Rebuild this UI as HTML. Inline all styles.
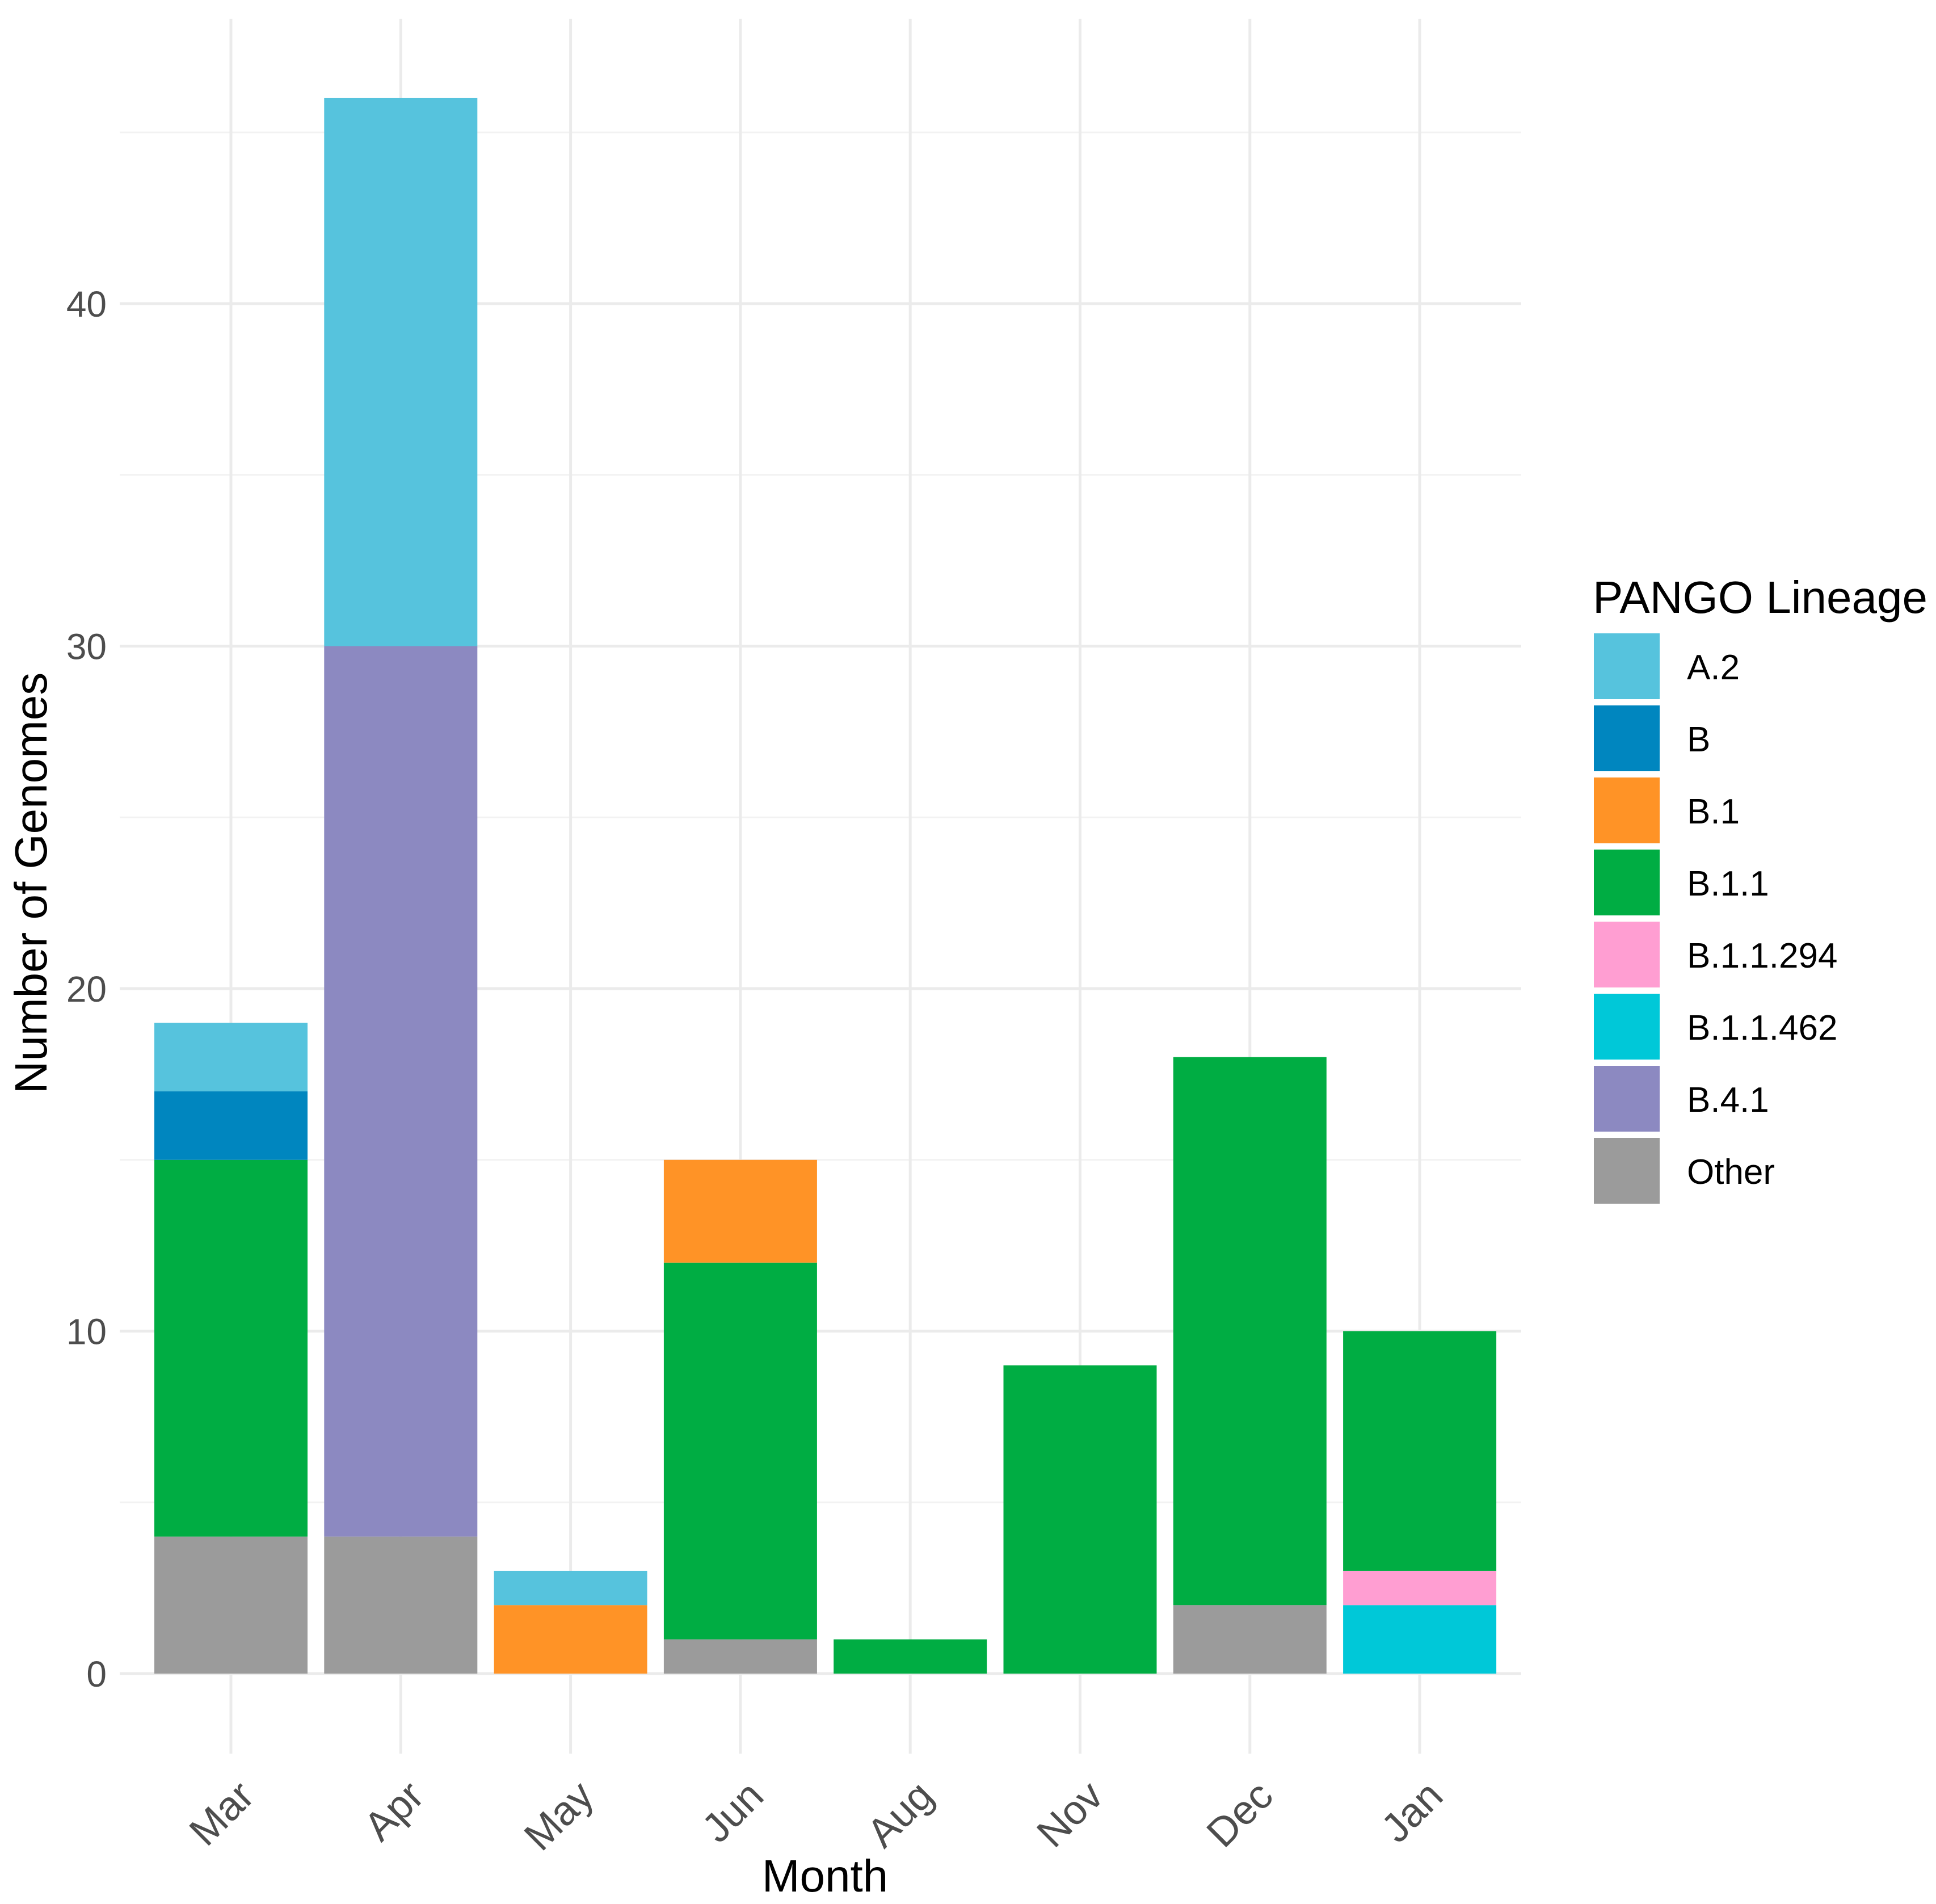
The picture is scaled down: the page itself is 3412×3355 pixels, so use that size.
<!DOCTYPE html>
<html><head><meta charset="utf-8"><style>html,body{margin:0;padding:0;background:#fff}svg{display:block}</style></head>
<body>
<svg id="chart" width="3412" height="3355" xmlns="http://www.w3.org/2000/svg" font-family="Liberation Sans, Arial, sans-serif">
<rect width="3412" height="3355" fill="#fff"/>
<g id="grid"></g><g id="bars"></g><g id="axes"></g><g id="legend"></g>
<text x="1454" y="3333" font-size="80" text-anchor="middle" fill="#000">Month</text>
<text transform="translate(82,1556) rotate(-90)" font-size="80" text-anchor="middle" fill="#000">Number of Genomes</text>
</svg>
<script>
const months = ["Mar","Apr","May","Jun","Aug","Nov","Dec","Jan"];
const lineages = ["A.2","B","B.1","B.1.1","B.1.1.294","B.1.1.462","B.4.1","Other"];
const colors = ["#56c3dd","#0086bf","#ff9326","#00ad43","#ff9ed2","#00c8d8","#8c89c1","#9b9b9b"];
const stackOrder = ["Other","B.4.1","B.1.1.462","B.1.1.294","B.1.1","B.1","B","A.2"];
const valA2 =      [2,16,1,0,0,0,0,0];
const valB =       [2,0,0,0,0,0,0,0];
const valB1 =      [0,0,2,3,0,0,0,0];
const valB11 =     [11,0,0,11,1,9,16,7];
const valB11294 =  [0,0,0,0,0,0,0,1];
const valB11462 =  [0,0,0,0,0,0,0,2];
const valB41 =     [0,26,0,0,0,0,0,0];
const valOther =   [4,4,0,1,0,0,2,0];
const yTicks = [0,10,20,30,40];
const yMinor = [5,15,25,35,45];

const series = {"A.2":valA2,"B":valB,"B.1":valB1,"B.1.1":valB11,"B.1.1.294":valB11294,"B.1.1.462":valB11462,"B.4.1":valB41,"Other":valOther};
const NS="http://www.w3.org/2000/svg";
const X0=407, STEP=299.3, BW=270, Y0=2949, PER=60.35, PL=211, PR=2681;
function xPos(i){return X0+i*STEP;}
function yPos(v){return Y0-v*PER;}
function mk(tag,attrs,parent){const e=document.createElementNS(NS,tag);for(const k in attrs)e.setAttribute(k,attrs[k]);parent.appendChild(e);return e;}
const grid=document.getElementById('grid'),bars=document.getElementById('bars'),axes=document.getElementById('axes'),legend=document.getElementById('legend');
yMinor.forEach(v=>{const l=mk('line',{x1:PL,x2:PR,y1:yPos(v),y2:yPos(v),stroke:'#f2f2f2','stroke-width':3},grid);

});
yTicks.forEach(v=>{const l=mk('line',{x1:PL,x2:PR,y1:yPos(v),y2:yPos(v),stroke:'#ebebeb','stroke-width':5},grid);


const t=mk('text',{x:188,y:yPos(v)+23,'font-size':64,'text-anchor':'end',fill:'#4d4d4d'},axes);t.textContent=v;

});
months.forEach((m,i)=>{const l=mk('line',{x1:xPos(i),x2:xPos(i),y1:33,y2:3090,stroke:'#ebebeb','stroke-width':5},grid);


const t=mk('text',{transform:`translate(${xPos(i)+8},3132) rotate(-45)`,'font-size':72,'text-anchor':'end',dy:'0.72em',fill:'#4d4d4d'},axes);t.textContent=m;


let acc=0;
stackOrder.forEach(name=>{const v=series[name][i];if(!v)return;
const c=colors[lineages.indexOf(name)];
const r=mk('rect',{x:xPos(i)-BW/2,width:BW,y:yPos(acc+v),height:v*PER,fill:c},bars);


acc+=v;});});
const lt=mk('text',{x:2807,y:1080,'font-size':80,fill:'#000'},legend);lt.textContent='PANGO Lineage';


lineages.forEach((n,k)=>{const y=1116+k*127;
const r=mk('rect',{x:2809,y:y,width:116,height:116,fill:colors[k]},legend);


const t=mk('text',{x:2973,y:y+81,'font-size':62,fill:'#000'},legend);t.textContent=n;

});
</script>
</body></html>
